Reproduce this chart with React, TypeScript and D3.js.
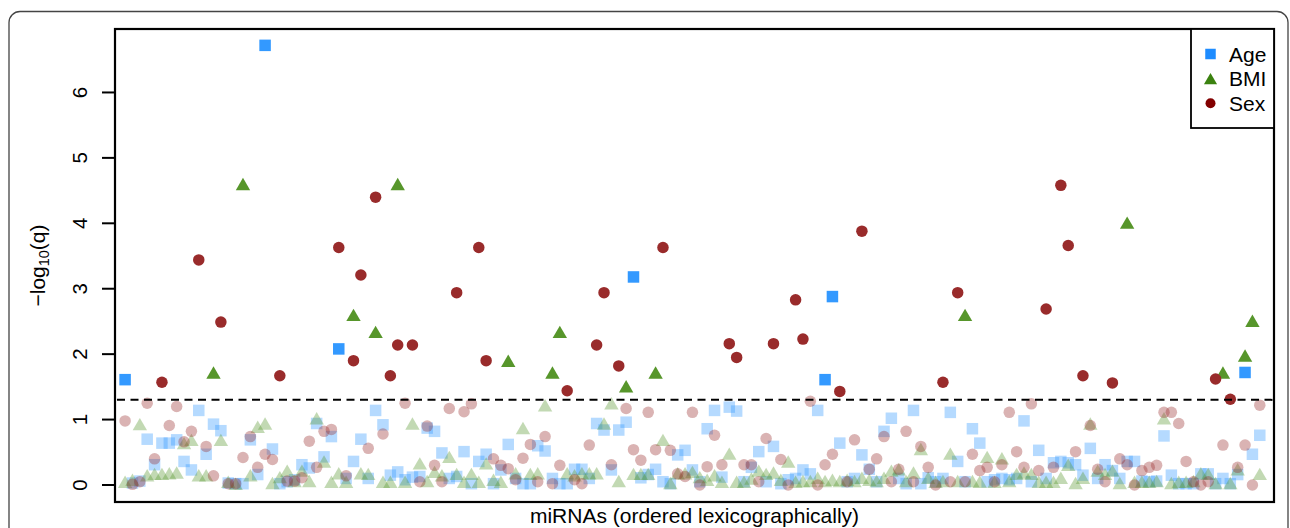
import React from 'react';
import * as d3 from 'd3';

// -log10(q) per miRNA, in lexicographic order
const ageQ = [
  1.61, 0.03, 0.06, 0.7, 0.31, 0.64, 0.64, 0.69, 0.36, 0.23,
  1.14, 0.47, 0.93, 0.83, 0.03, 0.02, 0.02, 0.69, 0.16, 6.72,
  0.55, 0.02, 0.05, 0.08, 0.31, 0.26, 0.94, 0.43, 0.74, 2.08,
  0.1, 0.36, 0.7, 0.1, 1.14, 0.92, 0.15, 0.2, 0.08, 0.12,
  0.13, 0.87, 0.82, 0.49, 0.1, 0.13, 0.51, 0.02, 0.36, 0.47,
  0.02, 0.23, 0.62, 0.1, 0.02, 0.02, 0.6, 0.52, 0.1, 0.02,
  0.02, 0.24, 0.24, 0.1, 0.94, 0.84, 0.23, 0.84, 0.96, 3.18,
  0.11, 0.16, 0.24, 0.05, 0.02, 0.46, 0.53, 0.23, 0.05, 0.86,
  1.14, 0.12, 1.19, 1.13, 0.05, 0.27, 0.51, 0.05, 0.59, 0.02,
  0.08, 0.1, 0.23, 0.17, 1.14, 1.61, 2.88, 0.64, 0.05, 0.1,
  0.46, 0.24, 0.05, 0.82, 1.02, 0.1, 0.02, 1.14, 0.02, 0.11,
  0.05, 0.1, 1.11, 0.36, 0.05, 0.86, 0.64, 0.05, 0.08, 0.1,
  0.08, 0.1, 0.98, 0.05, 0.53, 0.1, 0.34, 0.36, 0.34, 0.31,
  0.15, 0.56, 0.1, 0.31, 0.22, 0.1, 0.36, 0.36, 0.06, 0.05,
  0.06, 0.75, 0.15, 0.02, 0.02, 0.02, 0.17, 0.17, 0.02, 0.1,
  0.02, 0.16, 1.72, 0.47, 0.76,
];

const bmiQ = [
  0.05, 0.08, 0.93, 0.15, 0.17, 0.17, 0.18, 0.19, 0.64, 0.69,
  0.15, 0.15, 1.72, 0.69, 0.05, 0.02, 4.6, 0.15, 0.89, 0.94,
  0.03, 0.12, 0.22, 0.06, 0.22, 0.06, 1.02, 0.36, 0.05, 0.18,
  0.05, 2.6, 0.18, 0.17, 2.34, 0.05, 0.05, 4.6, 0.05, 0.94,
  0.33, 0.06, 0.2, 0.15, 0.43, 0.17, 0.05, 0.17, 0.05, 0.33,
  0.08, 0.05, 1.9, 0.18, 0.87, 0.17, 0.18, 1.22, 1.72, 2.34,
  0.18, 0.15, 0.18, 0.18, 0.18, 0.94, 1.25, 0.06, 1.51, 0.17,
  0.17, 0.17, 1.72, 0.69, 0.03, 0.18, 0.18, 0.2, 0.12, 0.08,
  0.15, 0.05, 0.48, 0.05, 0.05, 0.1, 0.22, 0.17, 0.19, 0.08,
  0.36, 0.05, 0.06, 0.06, 0.11, 0.06, 0.08, 0.06, 0.08, 0.06,
  0.11, 0.08, 0.06, 0.11, 0.22, 0.24, 0.06, 0.19, 0.55, 0.11,
  0.05, 0.06, 0.48, 0.06, 2.6, 0.06, 0.05, 0.43, 0.05, 0.41,
  0.06, 0.17, 0.19, 0.17, 0.05, 0.05, 0.05, 0.11, 0.31, 0.03,
  0.11, 0.94, 0.22, 0.17, 0.22, 0.03, 4.01, 0.05, 0.05, 0.05,
  0.06, 1.02, 0.03, 0.05, 0.05, 0.06, 0.18, 0.17, 0.03, 1.72,
  0.03, 0.24, 1.98, 2.51, 0.17,
];

const sexQ = [
  0.98, 0.01, 0.05, 1.25, 0.4, 1.57, 0.91, 1.2, 0.66, 0.82,
  3.44, 0.59, 0.14, 2.49, 0.02, 0.02, 0.42, 0.74, 0.27, 0.47,
  0.39, 1.67, 0.06, 0.06, 0.11, 0.67, 0.27, 0.82, 0.85, 3.63,
  0.14, 1.9, 3.21, 0.56, 4.4, 0.78, 1.67, 2.14, 1.25, 2.14,
  0.05, 0.9, 0.3, 0.05, 1.17, 2.94, 1.12, 1.24, 3.63, 1.9,
  0.4, 0.3, 0.25, 0.08, 0.41, 0.62, 0.05, 0.74, 0.02, 0.3,
  1.44, 0.08, 0.02, 0.61, 2.14, 2.94, 0.31, 1.82, 1.17, 0.54,
  0.38, 1.11, 0.54, 3.63, 0.53, 0.17, 0.13, 1.11, 0.0, 0.28,
  0.76, 0.31, 2.16, 1.95, 0.31, 0.31, 0.05, 0.71, 2.16, 0.39,
  0.0, 2.83, 2.23, 1.28, 0.0, 0.31, 0.47, 1.43, 0.05, 0.69,
  3.88, 0.24, 0.4, 0.74, 0.05, 0.24, 0.82, 0.05, 0.59, 0.27,
  0.0, 1.57, 0.05, 2.94, 0.05, 0.47, 0.22, 0.27, 0.05, 0.31,
  1.11, 0.51, 0.27, 1.24, 0.22, 2.69, 0.27, 4.58, 3.66, 0.51,
  1.67, 0.91, 0.24, 0.05, 1.56, 0.4, 0.31, 0.0, 0.22, 0.27,
  0.3, 1.11, 1.11, 0.94, 0.36, 0.05, 0.0, 0.05, 1.62, 0.61,
  1.31, 0.27, 0.61, 0.0, 1.22,
];

const yTicks = [0, 1, 2, 3, 4, 5, 6];
const seriesNames = ['Age', 'BMI', 'Sex'];
const xLabel = 'miRNAs (ordered lexicographically)';
const qCut = 0.05;

const FONT = '"Liberation Sans", Arial, Helvetica, sans-serif';
const plot = { left: 115, right: 1274, top: 29, bottom: 502 };

const series = [
  { name: seriesNames[0], values: ageQ, shape: 'square', col: '#3399ff', key: '#1e8cff' },
  { name: seriesNames[1], values: bmiQ, shape: 'triangle', col: '#57962b', key: '#3b8210' },
  { name: seriesNames[2], values: sexQ, shape: 'circle', col: '#992b2b', key: '#820000' },
];

function Mark({ shape, cx, cy, s, fill, opacity = 1 }) {
  if (shape === 'square') {
    return <rect x={cx - s / 2} y={cy - s / 2} width={s} height={s} fill={fill} opacity={opacity} />;
  }
  if (shape === 'triangle') {
    const w = s * 1.25, h = s * 1.08;
    return (
      <path
        d={`M${cx},${cy - h / 2}L${cx + w / 2},${cy + h / 2}L${cx - w / 2},${cy + h / 2}Z`}
        fill={fill}
        opacity={opacity}
      />
    );
  }
  return <circle cx={cx} cy={cy} r={s / 2} fill={fill} opacity={opacity} />;
}

export default function App() {
  const n = ageQ.length;
  const x = d3.scaleLinear().domain([-0.37, n + 1.93]).range([plot.left, plot.right]);
  const y = d3.scaleLinear().domain([-0.26, 6.97]).range([plot.bottom, plot.top]);
  const cutY = y(-Math.log10(qCut));
  const midX = (plot.left + plot.right) / 2;
  const midY = (plot.top + plot.bottom) / 2;

  return (
    <svg
      width={1290}
      height={528}
      style={{ position: 'fixed', left: 0, top: 0, background: '#fff' }}
      fontFamily={FONT}
    >
      <rect x={9} y={11.5} width={1279} height={560} rx={11} fill="none" stroke="#444" strokeWidth={1.3} />

      {/* points: faded when not significant */}
      {series.map((sr) => (
        <g key={sr.name}>
          {sr.values.map((v, i) => {
            const sig = v > -Math.log10(qCut);
            return (
              <Mark
                key={i}
                shape={sr.shape}
                cx={x(i + 1)}
                cy={y(v)}
                s={sr.shape === 'circle' ? 11.5 : 11.5}
                fill={sr.col}
                opacity={sig ? 1 : 0.36}
              />
            );
          })}
        </g>
      ))}

      <line x1={plot.left + 2} x2={plot.right} y1={cutY} y2={cutY} stroke="#000" strokeWidth={2} strokeDasharray="8,5.5" />

      <rect
        x={plot.left}
        y={plot.top}
        width={plot.right - plot.left}
        height={plot.bottom - plot.top}
        fill="none"
        stroke="#000"
        strokeWidth={2.2}
      />

      {/* y axis */}
      {yTicks.map((t) => (
        <g key={t}>
          <line x1={plot.left - 13} x2={plot.left} y1={y(t)} y2={y(t)} stroke="#000" strokeWidth={2} />
          <text
            transform={`translate(87,${y(t)}) rotate(-90)`}
            textAnchor="middle"
            fontSize={20.5}
            fill="#000"
          >
            {t}
          </text>
        </g>
      ))}

      <text transform={`translate(45,${midY}) rotate(-90)`} textAnchor="middle" fontSize={21} fill="#000">
        −log
        <tspan fontSize={14.5} dy={4}>10</tspan>
        <tspan dy={-4}>(q)</tspan>
      </text>

      <text x={midX} y={523} textAnchor="middle" fontSize={21} fill="#000">
        {xLabel}
      </text>

      {/* legend */}
      <g>
        <rect x={1191} y={plot.top} width={plot.right - 1191} height={99} fill="#fff" stroke="#000" strokeWidth={1.8} />
        {series.map((sr, i) => {
          const ly = 54 + i * 24.6;
          return (
            <g key={sr.name}>
              <Mark shape={sr.shape} cx={1210.5} cy={ly} s={sr.shape === 'circle' ? 10 : 10.5} fill={sr.key} />
              <text x={1229} y={ly + 7.5} fontSize={21} fill="#000">
                {sr.name}
              </text>
            </g>
          );
        })}
      </g>
    </svg>
  );
}
